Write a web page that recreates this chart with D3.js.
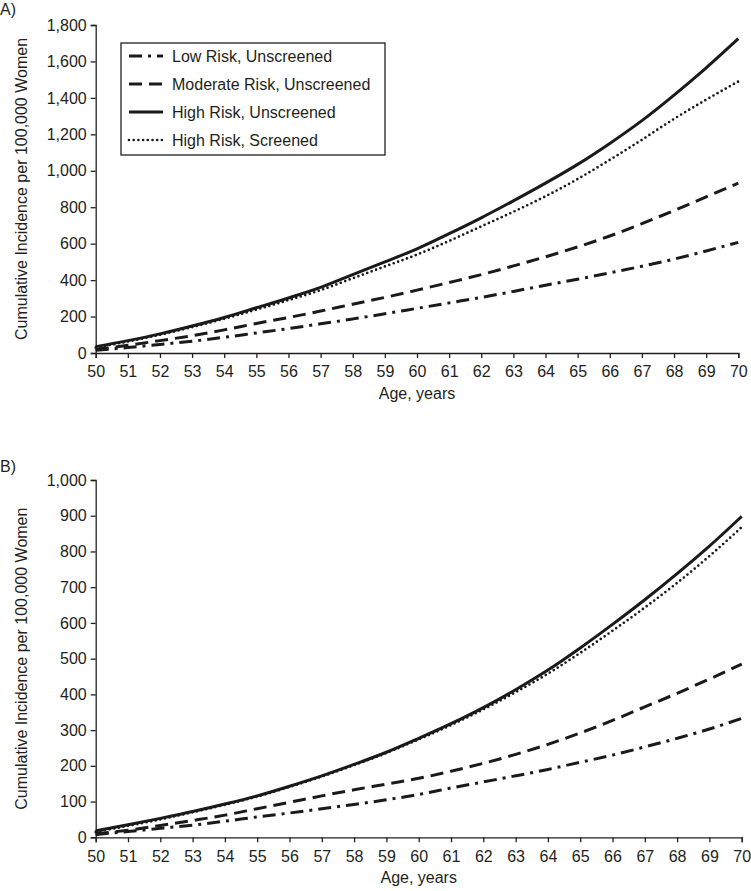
<!DOCTYPE html>
<html>
<head>
<meta charset="utf-8">
<script src="https://cdn.jsdelivr.net/npm/d3@7"></script>
<style>
  body { margin: 0; background: #fff; }
  svg { display: block; }
  text { font-family: "Liberation Sans", Arial, sans-serif; fill: #231f20; }
</style>
</head>
<body>
<svg id="chart" width="751" height="891"></svg>
<script>
// ---- data ----
const ages = [50,51,52,53,54,55,56,57,58,59,60,61,62,63,64,65,66,67,68,69,70];
const seriesNames = ["Low Risk, Unscreened", "Moderate Risk, Unscreened", "High Risk, Unscreened", "High Risk, Screened"];

// Panel A
const aLowUnscreened  = [15,30,47,65,86,110,134,160,187,215,245,275,305,338,372,405,440,476,515,560,607];
const aModUnscreened  = [20,42,68,95,127,162,195,230,268,305,345,387,430,478,528,582,642,710,782,857,932];
const aHighUnscreened = [35,68,105,148,195,248,302,360,430,500,572,655,742,835,932,1035,1150,1275,1415,1565,1725];
const aHighScreened   = [30,63,100,142,188,238,290,345,410,475,540,615,695,775,860,955,1060,1170,1285,1390,1490];

// Panel B
const bLowUnscreened  = [8,16,25,34,45,57,68,80,92,105,120,138,155,172,190,210,230,253,277,303,333];
const bModUnscreened  = [10,20,33,47,62,80,98,116,133,149,165,185,207,232,260,292,327,365,403,443,485];
const bHighUnscreened = [18,35,53,72,93,116,143,172,204,238,277,318,363,413,468,530,596,665,738,815,898];
const bHighScreened   = [15,32,50,70,91,114,141,170,202,236,274,314,358,406,458,516,578,643,712,787,868];

const aYTicks = [0,200,400,600,800,1000,1200,1400,1600,1800];
const bYTicks = [0,100,200,300,400,500,600,700,800,900,1000];
const xTicks = ages;

const yTitle = "Cumulative Incidence per 100,000 Women";
const xTitle = "Age, years";

// ---- styles ----
const styles = [
  { dash: "13,6,3,6", cap: "butt", width: 3 },
  { dash: "13,7", cap: "butt", width: 3 },
  { dash: null, cap: "butt", width: 3 },
  { dash: "0,4.7", cap: "round", width: 2.7 }
];

const svg = d3.select("#chart");
const fmt = d3.format(",");

function panel(cfg) {
  const x = d3.scaleLinear().domain([50, 70]).range([cfg.x0, cfg.x1]);
  const y = d3.scaleLinear().domain([0, cfg.yMax]).range([cfg.yBase, cfg.yTop]);
  const g = svg.append("g");

  const xAxis = g.append("g")
    .attr("transform", `translate(0,${cfg.yBase})`)
    .call(d3.axisBottom(x).tickValues(xTicks).tickFormat(d3.format("d")).tickSizeOuter(0).tickSize(5).tickPadding(8));
  const yAxis = g.append("g")
    .attr("transform", `translate(${cfg.x0},0)`)
    .call(d3.axisLeft(y).tickValues(cfg.yTicks).tickFormat(fmt).tickSizeOuter(0).tickSize(5).tickPadding(4));
  [xAxis, yAxis].forEach(a => {
    a.selectAll("path.domain").attr("stroke", "#231f20").attr("stroke-width", 1.3);
    a.selectAll(".tick line").attr("stroke", "#231f20").attr("stroke-width", 1.3);
    a.selectAll(".tick text").attr("font-size", 16).attr("fill", "#231f20")
      .style("font-family", '"Liberation Sans", Arial, sans-serif');
  });

  const line = d3.line().x((d, i) => x(ages[i])).y(d => y(d)).curve(d3.curveMonotoneX);
  cfg.series.forEach((s, i) => {
    const st = styles[i];
    g.append("path").datum(s)
      .attr("d", line)
      .attr("fill", "none")
      .attr("stroke", "#1a1a1a")
      .attr("stroke-width", st.width)
      .attr("stroke-linecap", st.cap)
      .attr("stroke-dasharray", st.dash);
  });

  g.append("text").attr("x", 0).attr("y", cfg.labelY).attr("font-size", 16).text(cfg.label);
  g.append("text")
    .attr("transform", `translate(27,${(cfg.yBase + cfg.yTop) / 2}) rotate(-90)`)
    .attr("text-anchor", "middle").attr("font-size", 16).text(yTitle);
  g.append("text")
    .attr("x", (cfg.x0 + cfg.x1) / 2).attr("y", cfg.yBase + 46)
    .attr("text-anchor", "middle").attr("font-size", 16).text(xTitle);
  return g;
}

panel({ x0: 95.7, x1: 738.3, yBase: 353, yTop: 25, yMax: 1800, yTicks: aYTicks,
        series: [aLowUnscreened, aModUnscreened, aHighUnscreened, aHighScreened], label: "A)", labelY: 15 });
panel({ x0: 95.7, x1: 741.7, yBase: 837.3, yTop: 480, yMax: 1000, yTicks: bYTicks,
        series: [bLowUnscreened, bModUnscreened, bHighUnscreened, bHighScreened], label: "B)", labelY: 472 });

// ---- legend (panel A) ----
const leg = svg.append("g");
leg.append("rect").attr("x", 121).attr("y", 43).attr("width", 264).attr("height", 112)
  .attr("fill", "#fff").attr("stroke", "#231f20").attr("stroke-width", 1.3);
seriesNames.forEach((name, i) => {
  const cy = 56 + i * 28;
  const st = styles[i];
  leg.append("line").attr("x1", 129).attr("x2", 163).attr("y1", cy).attr("y2", cy)
    .attr("stroke", "#1a1a1a").attr("stroke-width", st.width)
    .attr("stroke-linecap", st.cap).attr("stroke-dasharray", st.dash);
  leg.append("text").attr("x", 172).attr("y", cy + 6).attr("font-size", 16).text(name);
});
</script>
</body>
</html>
